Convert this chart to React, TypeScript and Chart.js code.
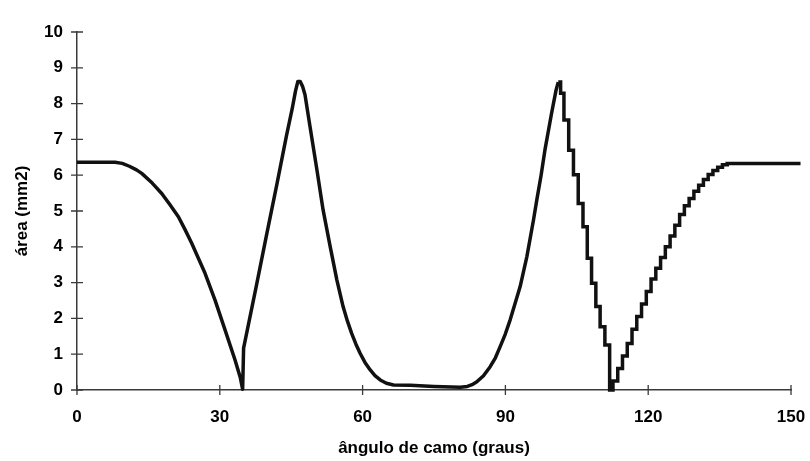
import React, { useEffect, useRef } from "react";
import { Chart, registerables } from "chart.js";

Chart.register(...registerables);

// Finely sampled part of the curve (cam angle in degrees, area in mm2)
const smoothAngle = [
  0, 8, 9.5, 11, 12.5, 13.6, 15.8, 17.8, 19.5, 21.3, 22.7, 24.1, 25.5, 26.9, 29.0, 31.1,
  33.2, 34.3, 34.8,
  35.0, 37.7, 39.9, 42.0, 44.0, 45.2, 45.9, 46.4, 46.9, 47.4, 47.9, 48.9, 50.4, 51.7,
  53.2, 54.6, 55.9, 56.8, 57.7, 58.6, 59.5, 60.5, 61.6, 62.6, 63.7, 65, 66.5, 70, 75,
  80.5, 82, 83, 84, 85.4, 86.8, 87.9, 88.9, 90, 91, 92, 93.1, 94.5, 95.9, 96.6, 97.5,
  98.3, 99.7, 100.6, 101.1,
];
const smoothArea = [
  6.36, 6.36, 6.33, 6.25, 6.15, 6.05, 5.78, 5.49, 5.18, 4.84, 4.48, 4.1, 3.68, 3.26, 2.51, 1.68,
  0.84, 0.35, 0.02,
  1.17, 2.92, 4.38, 5.75, 7.1, 7.85, 8.35, 8.62, 8.62, 8.48, 8.25, 7.4, 6.15, 5.03,
  4.0, 3.07, 2.33, 1.93, 1.58, 1.28, 1.02, 0.77, 0.56, 0.4, 0.28, 0.19, 0.14, 0.13, 0.1,
  0.08, 0.1, 0.15, 0.23, 0.4, 0.65, 0.9, 1.21, 1.57, 1.96, 2.4, 2.89, 3.72, 4.75, 5.31, 6.0,
  6.7, 7.73, 8.35, 8.6,
];

// Part sampled once per degree, drawn as a staircase
const stepAngle = [
  101.1, 101.6, 102.3, 103.3, 104.3, 105.3, 106.3, 107.2, 108.1, 109.0, 109.9, 110.9, 111.9,
  112.6, 113.6, 114.6, 115.6, 116.6, 117.6, 118.6, 119.6, 120.6, 121.6, 122.6, 123.6, 124.6,
  125.6, 126.6, 127.6, 128.6, 129.6, 130.6, 131.6, 132.6, 133.6, 134.6, 135.6, 136.6, 152,
];
const stepArea = [
  8.6, 8.29, 7.54, 6.7, 6.01, 5.21, 4.56, 3.68, 2.98, 2.33, 1.77, 1.26, 0,
  0.25, 0.6, 0.95, 1.3, 1.7, 2.05, 2.4, 2.75, 3.1, 3.4, 3.7, 4.0, 4.3,
  4.6, 4.9, 5.15, 5.35, 5.55, 5.72, 5.88, 6.02, 6.13, 6.22, 6.29, 6.33, 6.33,
];

const xTicks = [0, 30, 60, 90, 120, 150];
const yTicks = [0, 1, 2, 3, 4, 5, 6, 7, 8, 9, 10];

const FONT = "'Liberation Sans', Arial, sans-serif";
const AXIS_COLOR = "#3a3a3a";

// Tick marks that cross the axis line on both sides
const crossTicks = {
  id: "crossTicks",
  beforeDatasetsDraw(chart: any) {
    const { ctx, chartArea, scales } = chart;
    ctx.save();
    ctx.strokeStyle = AXIS_COLOR;
    ctx.lineWidth = 1.3;
    ctx.beginPath();
    for (const v of xTicks) {
      const px = scales.x.getPixelForValue(v);
      ctx.moveTo(px, chartArea.bottom - 5);
      ctx.lineTo(px, chartArea.bottom + 5);
    }
    for (const v of yTicks) {
      const py = scales.y.getPixelForValue(v);
      ctx.moveTo(chartArea.left - 6, py);
      ctx.lineTo(chartArea.left + 6, py);
    }
    ctx.stroke();
    ctx.restore();
  },
};

export default function App() {
  const canvasRef = useRef<HTMLCanvasElement | null>(null);

  useEffect(() => {
    const canvas = canvasRef.current;
    if (!canvas) return;

    const chart = new Chart(canvas, {
      type: "line",
      data: {
        datasets: [
          {
            data: smoothAngle.map((x, i) => ({ x, y: smoothArea[i] })),
            borderColor: "#111",
            borderWidth: 3.5,
            borderJoinStyle: "round",
            pointRadius: 0,
            tension: 0,
            fill: false,
            clip: false,
          },
          {
            data: stepAngle.map((x, i) => ({ x, y: stepArea[i] })),
            borderColor: "#111",
            borderWidth: 3.5,
            pointRadius: 0,
            stepped: "before",
            fill: false,
            clip: false,
          },
        ],
      },
      options: {
        responsive: false,
        animation: false,
        events: [],
        layout: { padding: { top: 32, right: 19, bottom: 0, left: 0 } },
        plugins: { legend: { display: false }, tooltip: { enabled: false } },
        scales: {
          x: {
            type: "linear",
            min: 0,
            max: 150,
            grid: { display: false, drawTicks: false },
            border: { display: true, color: AXIS_COLOR, width: 1.5 },
            afterBuildTicks: (s: any) => {
              s.ticks = xTicks.map((value) => ({ value }));
            },
            afterFit: (s: any) => {
              s.height = 71;
              s.paddingLeft = 0;
              s.paddingRight = 0;
            },
            ticks: {
              color: "#000",
              padding: 17,
              maxRotation: 0,
              font: { family: FONT, size: 17, weight: "bold" },
            },
            title: {
              display: true,
              text: "ângulo de camo (graus)",
              color: "#000",
              padding: { top: 0, bottom: 2 },
              font: { family: FONT, size: 17, weight: "bold" },
            },
          },
          y: {
            type: "linear",
            min: 0,
            max: 10,
            grid: { display: false, drawTicks: false },
            border: { display: true, color: AXIS_COLOR, width: 1.5 },
            afterBuildTicks: (s: any) => {
              s.ticks = yTicks.map((value) => ({ value }));
            },
            afterFit: (s: any) => {
              s.width = 77;
              s.paddingTop = 0;
              s.paddingBottom = 0;
            },
            ticks: {
              color: "#000",
              padding: 14,
              font: { family: FONT, size: 17, weight: "bold" },
            },
            title: {
              display: true,
              text: "área (mm2)",
              color: "#000",
              padding: { top: 12, bottom: 0 },
              font: { family: FONT, size: 17, weight: "bold" },
            },
          },
        },
      },
      plugins: [crossTicks],
    });

    return () => chart.destroy();
  }, []);

  return (
    <div
      style={{
        position: "absolute",
        left: 0,
        top: 0,
        width: 810,
        height: 461,
        background: "#fff",
      }}
    >
      <canvas ref={canvasRef} width={810} height={461} style={{ display: "block" }} />
    </div>
  );
}
